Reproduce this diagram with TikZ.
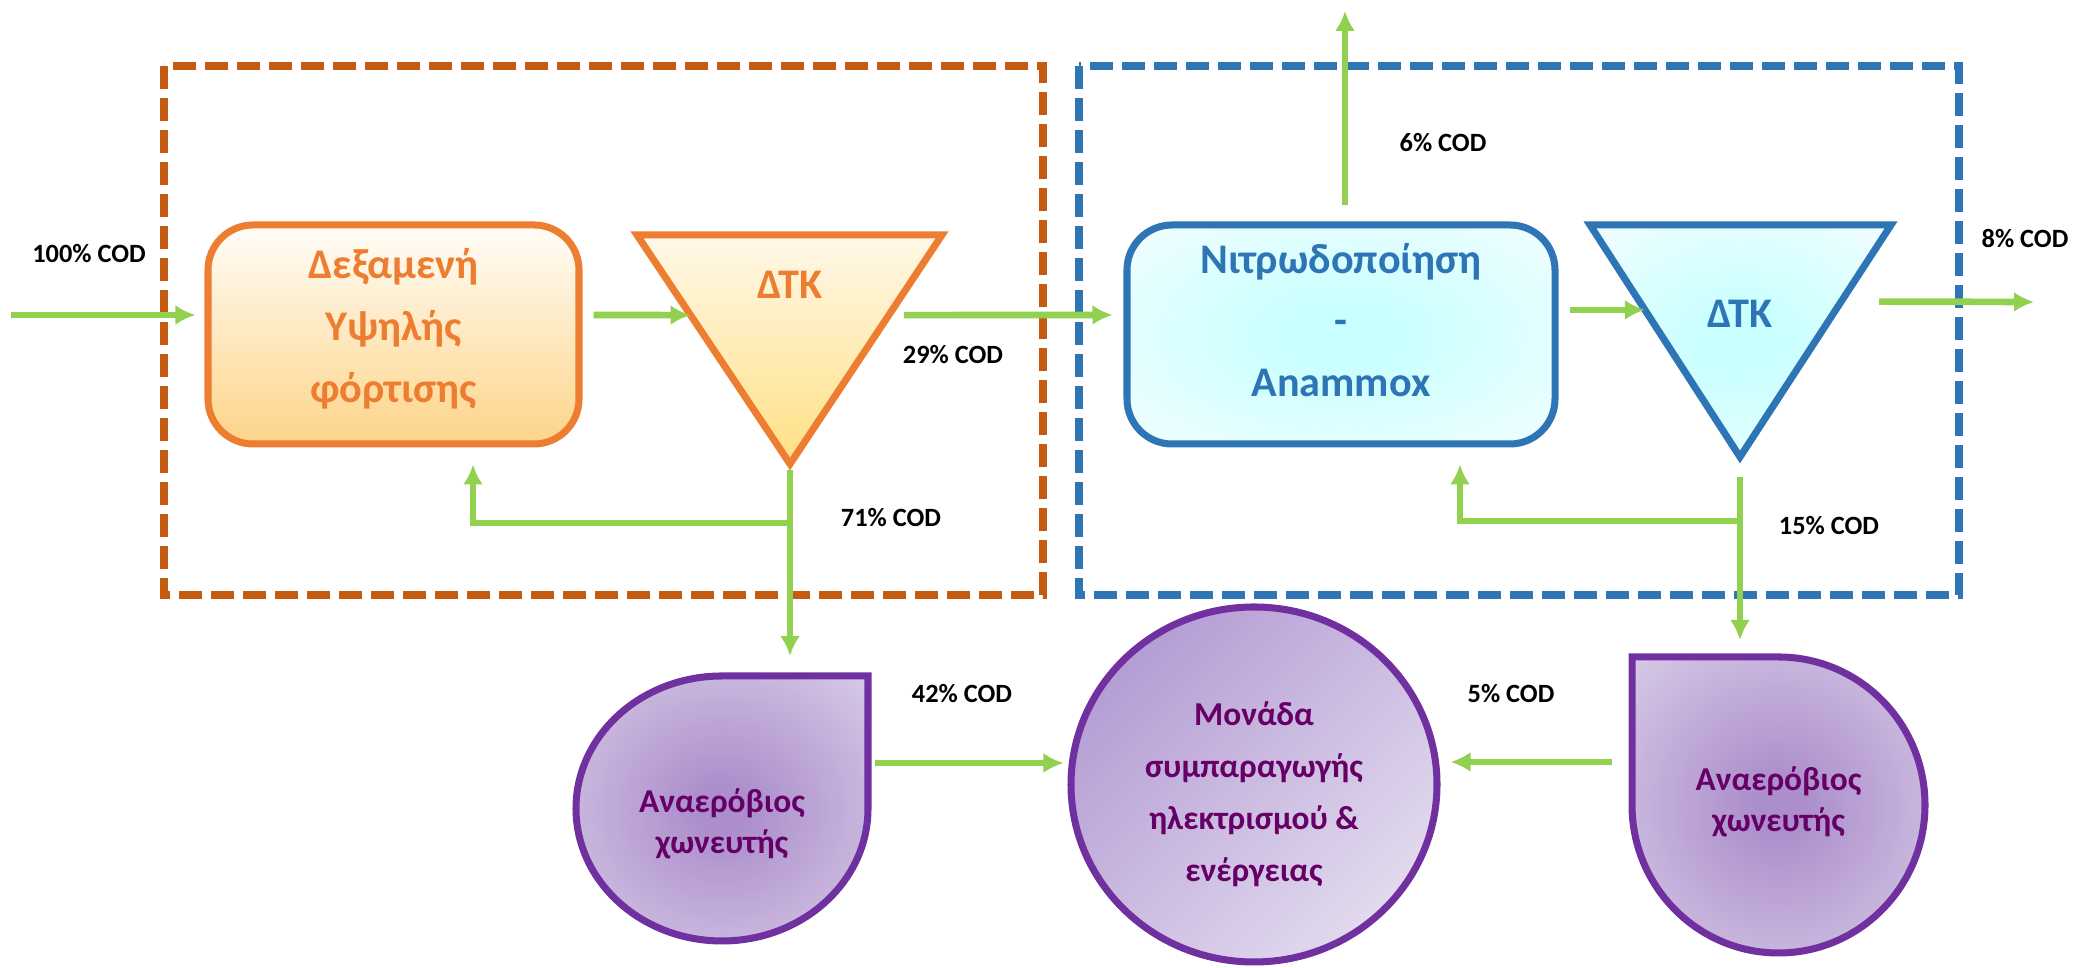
\documentclass[tikz,border=0pt]{standalone}
\usepackage{fontspec}
\setmainfont{Carlito}
\usetikzlibrary{shapes.geometric}
\usetikzlibrary{arrows.meta}
\usetikzlibrary{calc}

\definecolor{flowgreen}{HTML}{92D050}
\definecolor{hlrorange}{HTML}{ED7D31}
\definecolor{hlrzone}{HTML}{C55A11}
\definecolor{hlrtop}{HTML}{FFFDF8}
\definecolor{hlrbottom}{HTML}{FDD488}
\definecolor{settop}{HTML}{FFF8E8}
\definecolor{setbottom}{HTML}{FFE084}
\definecolor{nitblue}{HTML}{2E75B6}
\definecolor{nitcore}{HTML}{C8FFFF}
\definecolor{nitedge}{HTML}{F3FEFF}
\definecolor{adpurple}{HTML}{7030A0}
\definecolor{adtext}{HTML}{660066}
\definecolor{adcore}{HTML}{AB8ECB}
\definecolor{adedge}{HTML}{E3DAEE}
\definecolor{chpdark}{HTML}{B59DD4}
\definecolor{chplight}{HTML}{E2DAEE}

\pgfdeclareradialshading{nitglow}{\pgfpointorigin}{color(0bp)=(nitcore); color(6bp)=(nitcore); color(36bp)=(nitedge); color(50bp)=(nitedge)}
\pgfdeclareradialshading{adglow}{\pgfpointorigin}{color(0bp)=(adcore); color(4bp)=(adcore); color(44bp)=(adedge); color(50bp)=(adedge)}

\tikzset{
    flow/.style={draw=flowgreen, line width=1.9pt, -{Latex[length=2mm,width=2mm]}},
    cod/.style={font=\bfseries\fontsize{7.5}{9}\selectfont, inner sep=0pt},
    tank/.style={rectangle, rounded corners=0.45cm, line width=2pt, minimum height=2.19cm},
    tanklabel/.style={align=center, font=\bfseries\fontsize{12}{17.6}\selectfont},
    zone/.style={line width=2.1pt, dash pattern=on 2.3mm off 0.9mm},
    digester/.style={draw=adpurple, line width=2pt, shading=adglow},
    adlabel/.style={text=adtext, align=center, font=\bfseries\fontsize{9.5}{11.5}\selectfont}
}

\begin{document}
\begin{tikzpicture}
\useasboundingbox (0,0) rectangle (20.78,9.68);

% process zones
\draw[zone, draw=hlrzone] (1.64,9.02) rectangle (10.43,3.73);
\draw[zone, draw=nitblue] (10.79,9.02) rectangle (19.59,3.73);

% high load tank + settler
\node[tank, draw=hlrorange, top color=hlrtop, bottom color=hlrbottom,
    minimum width=3.71cm] (hlr) at (3.935,6.335) {};
\node[tanklabel, text=hlrorange] (hlrtext) at (3.935,6.39) {Δεξαμενή\\Υψηλής\\φόρτισης};

\coordinate (t1l) at (6.37,7.33);
\coordinate (t1r) at (9.42,7.33);
\coordinate (t1a) at (7.90,5.04);
\draw[draw=hlrorange, line width=2pt, top color=settop, bottom color=setbottom]
    (t1l) -- (t1r) -- (t1a) -- cycle;
\node[text=hlrorange, font=\bfseries\fontsize{12}{14}\selectfont] (dtk1) at (7.90,6.83) {ΔΤΚ};

% nitritation / anammox + settler
\node[tank, draw=nitblue, shading=nitglow,
    minimum width=4.28cm] (nit) at (13.41,6.335) {};
\node[tanklabel, text=nitblue] (nittext) at (13.41,6.48) {Νιτρωδοποίηση\\-\\Anammox};

\coordinate (t2l) at (15.90,7.43);
\coordinate (t2r) at (18.91,7.43);
\coordinate (t2a) at (17.40,5.11);
\draw[draw=nitblue, line width=2pt, shading=nitglow] (t2l) -- (t2r) -- (t2a) -- cycle;
\node[text=nitblue, font=\bfseries\fontsize{12}{14}\selectfont] (dtk2) at (17.40,6.54) {ΔΤΚ};

% digesters and CHP unit
\coordinate (ad1top) at (7.22,2.92);
\draw[digester] (ad1top) -- (8.68,2.92) -- (8.68,1.595)
    arc[start angle=0, end angle=-270, x radius=1.46cm, y radius=1.325cm] -- cycle;
\node[adlabel] (ad1) at (7.22,1.44) {Αναερόβιος\\χωνευτής};

\coordinate (ad2top) at (17.785,3.11);
\draw[digester] (ad2top) -- (16.32,3.11) -- (16.32,1.63)
    arc[start angle=180, end angle=450, x radius=1.465cm, y radius=1.48cm] -- cycle;
\node[adlabel] (ad2) at (17.785,1.66) {Αναερόβιος\\χωνευτής};

\node[ellipse, draw=adpurple, line width=2pt, top color=chpdark, bottom color=chplight,
    shading angle=45, minimum width=3.66cm, minimum height=3.55cm] (chp) at (12.54,1.835) {};
\node[adlabel, font=\bfseries\fontsize{9.5}{14.8}\selectfont] (chptext) at (12.54,1.74)
    {Μονάδα\\συμπαραγωγής\\ηλεκτρισμού \&\\ενέργειας};

% arrows
\coordinate (feed) at (0.11,6.53);
\draw[flow, shorten >=0.9mm] (feed) -- (feed -| hlr.west);
\draw[flow, shorten <=1.1mm] (feed -| hlr.east) -- ($(t1l)!0.35!(t1a)$);
\draw[flow, shorten <=1.5mm, shorten >=1.1mm] ($(t1r)!0.35!(t1a)$) -- (feed -| nit.west);

\coordinate (vent) at (13.45,9.57);
\draw[flow, shorten <=1.6mm] (vent |- nit.north) -- (vent);

\coordinate (t2in) at ($(t2l)!0.366!(t2a)$);
\draw[flow, shorten <=1.1mm] (t2in -| nit.east) -- (t2in);
\coordinate (eff) at (20.34,6.66);
\draw[flow, shorten <=3.8mm] ($(t2r)!0.33!(t2a)$) -- (eff);

\coordinate (ret1) at (4.73,4.45);
\draw[flow, shorten >=1.7mm] (t1a |- ret1) -- (ret1) -- (ret1 |- hlr.south);
\draw[flow, shorten <=0.6mm, shorten >=2mm] (t1a) -- (t1a |- ad1top);

\coordinate (ret2) at (14.60,4.47);
\draw[flow, shorten >=1.7mm] (t2a |- ret2) -- (ret2) -- (ret2 |- nit.south);
\draw[flow, shorten <=2mm, shorten >=1.7mm] (t2a) -- (t2a |- ad2top);

\coordinate (gas1) at (8.75,2.05);
\draw[flow, shorten >=0.4mm] (gas1) -- (gas1 -| chp.west);
\coordinate (gas2) at (16.12,2.06);
\draw[flow, shorten >=1mm] (gas2) -- (gas2 -| chp.east);

% COD fractions
\node[cod] (c100) at (0.89,7.14) {100\% COD};
\node[cod] (c29) at (9.53,6.13) {29\% COD};
\node[cod] (c71) at (8.91,4.50) {71\% COD};
\node[cod] (c6) at (14.43,8.25) {6\% COD};
\node[cod] (c8) at (20.25,7.29) {8\% COD};
\node[cod] (c15) at (18.29,4.42) {15\% COD};
\node[cod] (c42) at (9.62,2.74) {42\% COD};
\node[cod] (c5) at (15.11,2.74) {5\% COD};
\end{tikzpicture}
\end{document}
